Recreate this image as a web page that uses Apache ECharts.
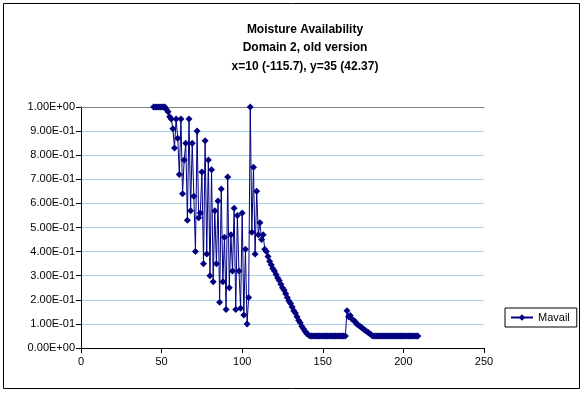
<!DOCTYPE html>
<html>
<head>
<meta charset="utf-8">
<script src="https://cdn.jsdelivr.net/npm/echarts@6/dist/echarts.min.js"></script>
<style>
html,body{margin:0;padding:0;background:#fff;}
#c{width:585px;height:394px;}
</style>
</head>
<body>
<div id="c"></div>
<script>
var titleLines = ["Moisture Availability", "Domain 2, old version", "x=10 (-115.7), y=35 (42.37)"];
var seriesName = "Mavail";
var xTicks = [0, 50, 100, 150, 200, 250];
var yTicks = [0, 0.1, 0.2, 0.3, 0.4, 0.5, 0.6, 0.7, 0.8, 0.9, 1.0];
var xValues = [45,46,47,48,49,50,51,52,53,54,55,56,57,58,59,60,61,62,63,64,65,66,67,68,69,70,71,72,73,74,75,76,77,78,79,80,81,82,83,84,85,86,87,88,89,90,91,92,93,94,95,96,97,98,99,100,101,102,103,104,105,106,107,108,109,110,111,112,113,114,115,116,117,118,119,120,121,122,123,124,125,126,127,128,129,130,131,132,133,134,135,136,137,138,139,140,141,142,143,144,145,146,147,148,149,150,151,152,153,154,155,156,157,158,159,160,161,162,163,164,165,166,167,168,169,170,171,172,173,174,175,176,177,178,179,180,181,182,183,184,185,186,187,188,189,190,191,192,193,194,195,196,197,198,199,200,201,202,203,204,205,206,207,208,209];
var mavail = [1.0,1.0,1.0,1.0,1.0,1.0,1.0,1.0,0.99,0.98,0.96,0.95,0.91,0.83,0.95,0.87,0.72,0.95,0.64,0.78,0.85,0.53,0.95,0.57,0.85,0.63,0.40,0.90,0.54,0.56,0.73,0.35,0.86,0.39,0.78,0.30,0.74,0.275,0.57,0.35,0.61,0.19,0.66,0.275,0.46,0.16,0.71,0.25,0.47,0.32,0.58,0.16,0.55,0.32,0.165,0.56,0.137,0.41,0.10,0.21,1.0,0.48,0.75,0.39,0.65,0.47,0.52,0.45,0.47,0.41,0.40,0.38,0.36,0.345,0.33,0.32,0.305,0.29,0.28,0.265,0.25,0.24,0.225,0.21,0.195,0.185,0.17,0.155,0.145,0.13,0.115,0.105,0.09,0.08,0.07,0.06,0.055,0.05,0.05,0.05,0.05,0.05,0.05,0.05,0.05,0.05,0.05,0.05,0.05,0.05,0.05,0.05,0.05,0.05,0.05,0.05,0.05,0.05,0.05,0.05,0.155,0.13,0.135,0.12,0.115,0.11,0.10,0.095,0.09,0.085,0.08,0.075,0.07,0.065,0.06,0.055,0.05,0.05,0.05,0.05,0.05,0.05,0.05,0.05,0.05,0.05,0.05,0.05,0.05,0.05,0.05,0.05,0.05,0.05,0.05,0.05,0.05,0.05,0.05,0.05,0.05,0.05,0.05,0.05,0.05];

var data = xValues.map(function(x, i){ return [x, mavail[i]]; });

function sci(v){
  if (Math.abs(v) < 1e-12) return "0.00E+00";
  var s = Number(v).toExponential(2).split("e");
  var e = parseInt(s[1], 10);
  var sign = e < 0 ? "-" : "+";
  var a = Math.abs(e);
  return s[0] + "E" + sign + (a < 10 ? "0" + a : "" + a);
}

var font = "'Liberation Sans', Arial, sans-serif";
var chart = echarts.init(document.getElementById('c'), null, {renderer: 'canvas'});
chart.setOption({
  backgroundColor: '#ffffff',
  animation: false,
  graphic: [
    {type: 'rect', shape: {x: 3.5, y: 3.5, width: 576, height: 385}, style: {fill: 'none', stroke: '#000', lineWidth: 1}, z: -1},
    {type: 'text', x: 305, y: 20, style: {text: titleLines.join("\n"), font: "bold 12px " + font, fill: '#000', align: 'center', textAlign: 'center', lineHeight: 18.5}}
  ],
  grid: {left: 81, top: 107, width: 403, height: 241, containLabel: false, outerBoundsMode: 'none'},
  legend: {
    data: [seriesName], left: 505, top: 308, orient: 'vertical',
    borderColor: '#000', borderWidth: 1, padding: [4, 7, 4, 5],
    itemWidth: 22, itemHeight: 8, itemGap: 0,
    textStyle: {fontFamily: font, fontSize: 11, color: '#000'}
  },
  xAxis: [{
    type: 'value', min: 0, max: 250, interval: 50,
    axisLine: {show: true, lineStyle: {color: '#000', width: 1}},
    axisTick: {show: true, inside: false, length: 5, lineStyle: {color: '#000'}},
    axisLabel: {color: '#000', fontFamily: font, fontSize: 11, margin: 8,
      customValues: xTicks},
    splitLine: {show: false}
  }, {
    type: 'value', position: 'top', min: 0, max: 250,
    axisLine: {show: true, onZero: false, lineStyle: {color: '#808080', width: 1}},
    axisTick: {show: false}, axisLabel: {show: false}, splitLine: {show: false}
  }],
  yAxis: {
    type: 'value', min: 0, max: 1, interval: 0.1,
    axisLine: {show: true, lineStyle: {color: '#000', width: 1}},
    axisTick: {show: true, inside: false, length: 5, lineStyle: {color: '#000'}},
    axisLabel: {color: '#000', fontFamily: font, fontSize: 11, margin: 6, formatter: sci},
    splitLine: {show: true, lineStyle: {color: '#a6cff0', width: 1}}
  },
  series: [{
    name: seriesName, type: 'line', data: data, xAxisIndex: 0,
    symbol: 'diamond', symbolSize: 7, showSymbol: true,
    lineStyle: {color: '#000080', width: 1},
    itemStyle: {color: '#000080'},
    emphasis: {disabled: true}
  }]
});
</script>
</body>
</html>
